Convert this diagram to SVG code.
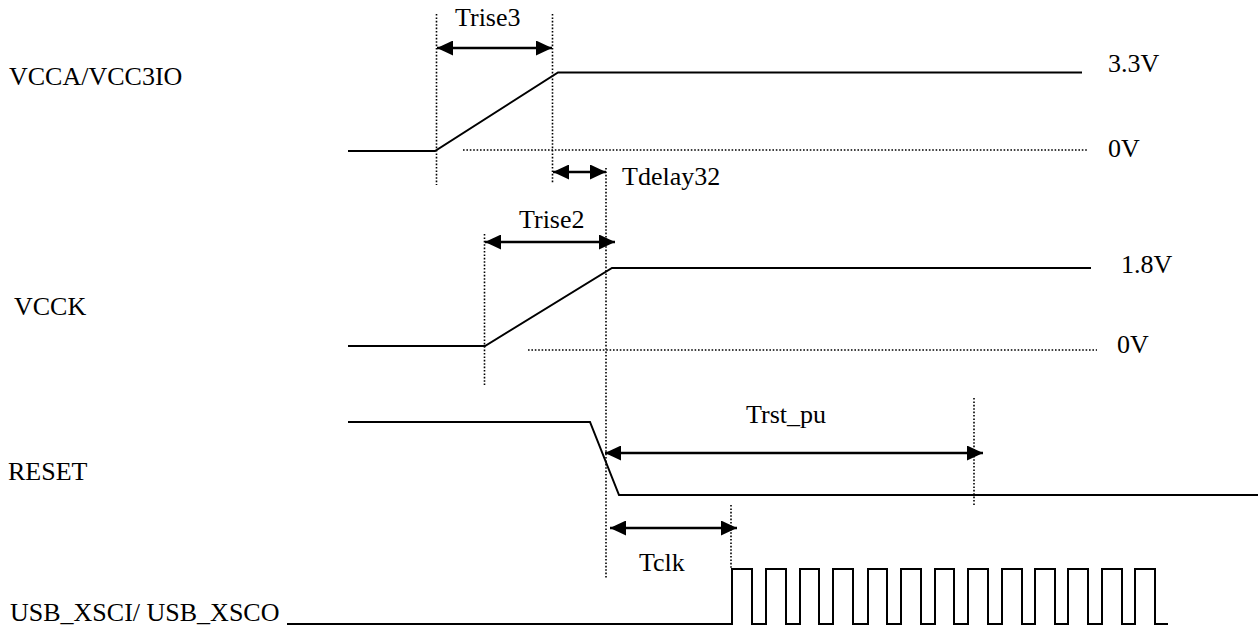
<svg xmlns="http://www.w3.org/2000/svg" width="1258" height="627" viewBox="0 0 1258 627">
<style>
text{font-family:'Liberation Serif','DejaVu Serif',serif;font-size:26px;fill:#000}
.s{fill:none;stroke:#000;stroke-width:2}
.d{fill:none;stroke:#000;stroke-width:1.6;stroke-dasharray:1.6 1.8}
.a{fill:none;stroke:#000;stroke-width:2.4;marker-start:url(#ah);marker-end:url(#ah)}
</style>
<defs>
<marker id="ah" viewBox="0 0 16 15" refX="16" refY="7.5" markerWidth="16" markerHeight="15" markerUnits="userSpaceOnUse" orient="auto-start-reverse">
<path d="M0,0 L16,7.5 L0,15 z" fill="#000"/>
</marker>
</defs>
<rect width="1258" height="627" fill="#fff"/>
<g id="labels" font-family="Liberation Serif, serif">
<text x="9" y="85">VCCA/VCC3IO</text>
<text x="14" y="315">VCCK</text>
<text x="8" y="480">RESET</text>
<text x="10" y="621">USB_XSCI/ USB_XSCO</text>
<text x="1108" y="72">3.3V</text>
<text x="1108" y="157">0V</text>
<text x="1121" y="273">1.8V</text>
<text x="1117" y="353">0V</text>
</g>
<g id="guides">
<line class="d" x1="436.5" y1="14" x2="436.5" y2="185"/>
<line class="d" x1="552.5" y1="14" x2="552.5" y2="183"/>
<line class="d" x1="606" y1="168" x2="606" y2="579"/>
<line class="d" x1="484.5" y1="234" x2="484.5" y2="385"/>
<line class="d" x1="974" y1="398" x2="974" y2="506"/>
<line class="d" x1="731" y1="505" x2="731" y2="569"/>
<line class="d" x1="463" y1="150" x2="1088" y2="150"/>
<line class="d" x1="528" y1="350" x2="1097" y2="350"/>
</g>
<g id="signal-vcca">
<polyline class="s" points="348,151 435,151 558,72.5 1082,72.5"/>
</g>
<g id="signal-vcck">
<polyline class="s" points="348,346 485,346 612,268 1091,268"/>
</g>
<g id="signal-reset">
<polyline class="s" points="348,422 590,422 619,495 1258,495"/>
</g>
<g id="signal-usb">
<polyline class="s" points="287,624 732,624 732,569 752,569 752,624 766,624 766,569 786,569 786,624 800,624 800,569 819,569 819,624 833,624 833,569 853,569 853,624 868,624 868,569 887,569 887,624 901,624 901,569 921,569 921,624 935,624 935,569 954,569 954,624 968,624 968,569 988,569 988,624 1002,624 1002,569 1022,569 1022,624 1035,624 1035,569 1055,569 1055,624 1068,624 1068,569 1088,569 1088,624 1102,624 1102,569 1122,569 1122,624 1135,624 1135,569 1155,569 1155,624 1168,624"/>
</g>
<g id="connectors">
<line class="a" x1="437" y1="48" x2="552" y2="48"/>
<line class="a" x1="553" y1="172" x2="606" y2="172"/>
<line class="a" x1="485" y1="242" x2="615" y2="242"/>
<line class="a" x1="605" y1="453" x2="983" y2="453"/>
<line class="a" x1="610" y1="528" x2="737" y2="528"/>
</g>
<g id="timing-labels">
<text x="455" y="26">Trise3</text>
<text x="622" y="185">Tdelay32</text>
<text x="519" y="228">Trise2</text>
<text x="746" y="423">Trst_pu</text>
<text x="639" y="571">Tclk</text>
</g>
</svg>
